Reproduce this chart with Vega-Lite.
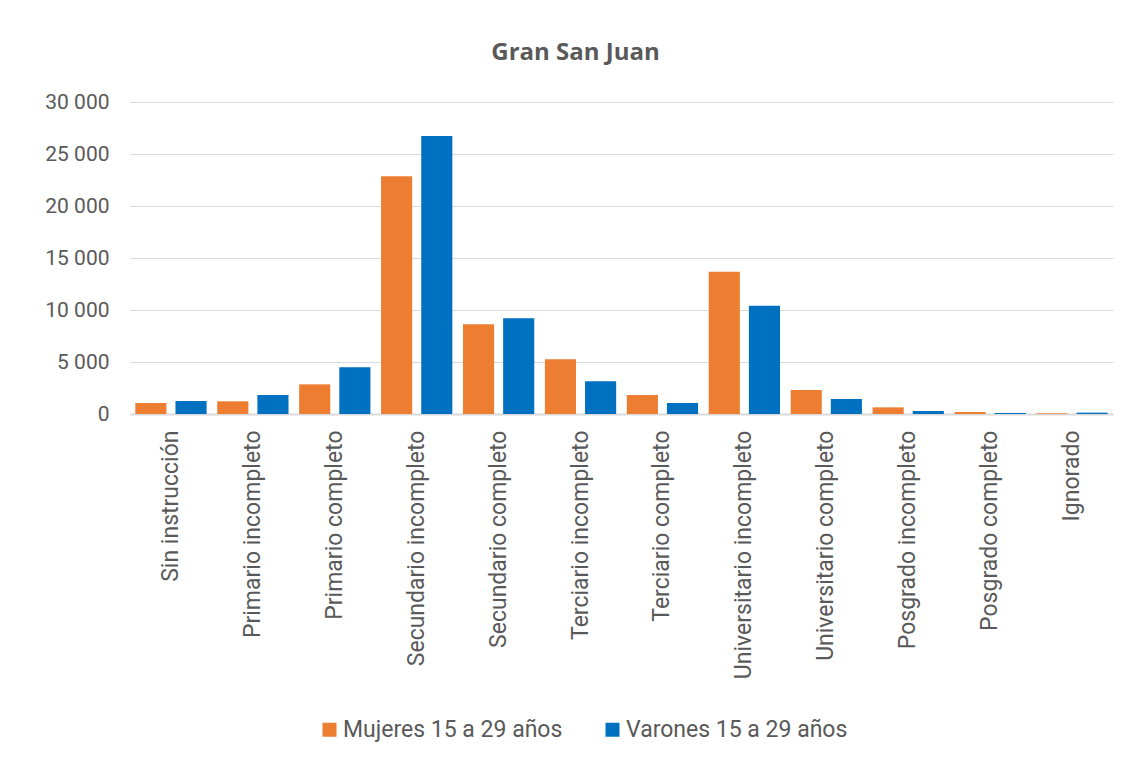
{
  "$schema": "https://vega.github.io/schema/vega-lite/v6.json",
  "autosize": "none",
  "width": 983,
  "height": 312,
  "padding": {"left": 130, "top": 102, "right": 18, "bottom": 346},
  "background": "white",
  "config": {
    "font": "Roboto",
    "view": {"stroke": null},
    "locale": {"number": {"decimal": ",", "thousands": " ", "grouping": [3], "currency": ["", ""]}}
  },
  "title": {
    "text": "Gran San Juan",
    "font": "Open Sans",
    "fontSize": 24,
    "fontWeight": "bold",
    "color": "#595959",
    "anchor": "middle",
    "dx": -46,
    "offset": 26
  },
  "data": {
    "values": [
      {"nivel": "Sin instrucción", "serie": "Mujeres 15 a 29 años", "valor": 1060},
      {"nivel": "Sin instrucción", "serie": "Varones 15 a 29 años", "valor": 1250},
      {"nivel": "Primario incompleto", "serie": "Mujeres 15 a 29 años", "valor": 1220},
      {"nivel": "Primario incompleto", "serie": "Varones 15 a 29 años", "valor": 1820},
      {"nivel": "Primario completo", "serie": "Mujeres 15 a 29 años", "valor": 2850},
      {"nivel": "Primario completo", "serie": "Varones 15 a 29 años", "valor": 4500},
      {"nivel": "Secundario incompleto", "serie": "Mujeres 15 a 29 años", "valor": 22850},
      {"nivel": "Secundario incompleto", "serie": "Varones 15 a 29 años", "valor": 26720},
      {"nivel": "Secundario completo", "serie": "Mujeres 15 a 29 años", "valor": 8630},
      {"nivel": "Secundario completo", "serie": "Varones 15 a 29 años", "valor": 9200},
      {"nivel": "Terciario incompleto", "serie": "Mujeres 15 a 29 años", "valor": 5270},
      {"nivel": "Terciario incompleto", "serie": "Varones 15 a 29 años", "valor": 3140},
      {"nivel": "Terciario completo", "serie": "Mujeres 15 a 29 años", "valor": 1830},
      {"nivel": "Terciario completo", "serie": "Varones 15 a 29 años", "valor": 1060},
      {"nivel": "Universitario incompleto", "serie": "Mujeres 15 a 29 años", "valor": 13680},
      {"nivel": "Universitario incompleto", "serie": "Varones 15 a 29 años", "valor": 10420},
      {"nivel": "Universitario completo", "serie": "Mujeres 15 a 29 años", "valor": 2310},
      {"nivel": "Universitario completo", "serie": "Varones 15 a 29 años", "valor": 1440},
      {"nivel": "Posgrado incompleto", "serie": "Mujeres 15 a 29 años", "valor": 640},
      {"nivel": "Posgrado incompleto", "serie": "Varones 15 a 29 años", "valor": 290},
      {"nivel": "Posgrado completo", "serie": "Mujeres 15 a 29 años", "valor": 190},
      {"nivel": "Posgrado completo", "serie": "Varones 15 a 29 años", "valor": 100},
      {"nivel": "Ignorado", "serie": "Mujeres 15 a 29 años", "valor": 70},
      {"nivel": "Ignorado", "serie": "Varones 15 a 29 años", "valor": 130}
    ]
  },
  "mark": {"type": "bar"},
  "encoding": {
    "x": {
      "field": "nivel",
      "type": "nominal",
      "sort": null,
      "scale": {"paddingInner": 0.13, "paddingOuter": 0.065},
      "axis": {
        "title": null,
        "labelAngle": -90,
        "labelFontSize": 23,
        "labelColor": "#595959",
        "labelPadding": 16,
        "ticks": false,
        "domainColor": "#D9D9D9",
        "domainWidth": 2,
        "labelLimit": 400
      }
    },
    "xOffset": {
      "field": "serie",
      "type": "nominal",
      "scale": {"paddingInner": 0.225, "paddingOuter": 0}
    },
    "y": {
      "field": "valor",
      "type": "quantitative",
      "scale": {"domain": [0, 30000], "nice": false},
      "axis": {
        "title": null,
        "values": [0, 5000, 10000, 15000, 20000, 25000, 30000],
        "format": ",d",
        "labelFontSize": 21,
        "labelColor": "#595959",
        "labelPadding": 21,
        "ticks": false,
        "domain": false,
        "gridColor": "#D9D9D9",
        "gridWidth": 1
      }
    },
    "color": {
      "field": "serie",
      "type": "nominal",
      "scale": {"domain": ["Mujeres 15 a 29 años", "Varones 15 a 29 años"], "range": ["#ED7D31", "#0070C0"]},
      "legend": {
        "title": null,
        "orient": "none",
        "legendX": 188,
        "legendY": 616,
        "direction": "horizontal",
        "symbolType": "square",
        "symbolSize": 196,
        "symbolStrokeWidth": 0,
        "labelFontSize": 23,
        "labelColor": "#595959",
        "labelLimit": 400,
        "columnPadding": 38,
        "labelOffset": 2
      }
    }
  }
}
